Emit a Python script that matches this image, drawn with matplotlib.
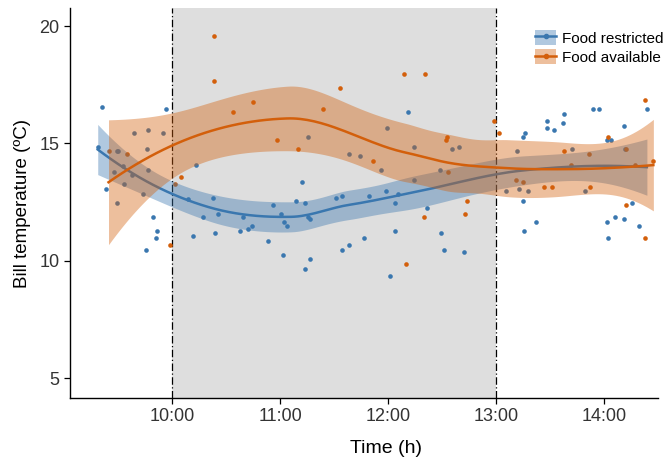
import numpy as np
import matplotlib
matplotlib.use("Agg")
import matplotlib.pyplot as plt
from matplotlib.patches import Patch
from matplotlib.lines import Line2D

plt.rcParams['font.family'] = ['Liberation Sans', 'DejaVu Sans']

# ---- data (time in decimal hours, bill temperature in °C) ----
restricted_x = [9.31, 9.353, 9.384, 9.464, 9.487, 9.50, 9.487, 9.54, 9.55, 9.632,
                9.65, 9.73, 9.756, 9.765, 9.775, 9.775, 9.82, 9.85, 9.858, 9.914,
                9.94, 10.15, 10.195, 10.217, 10.288, 10.38, 10.40, 10.424, 10.63, 10.66,
                10.70, 10.736, 10.885, 10.93, 11.007, 11.024, 11.04, 11.064, 11.148, 11.2,
                11.228, 11.228, 11.256, 11.262, 11.28, 11.28, 11.516, 11.571, 11.578, 11.636,
                11.64, 11.745, 11.78, 11.828, 11.937, 11.98, 11.99, 12.017, 12.063, 12.063,
                12.095, 12.19, 12.237, 12.24, 12.363, 12.48, 12.49, 12.52, 12.59, 12.66,
                12.707, 13.094, 13.2, 13.218, 13.248, 13.25, 13.26, 13.27, 13.30, 13.37,
                13.478, 13.478, 13.536, 13.62, 13.63, 13.71, 13.826, 13.90, 13.956, 14.03,
                14.03, 14.04, 14.07, 14.10, 14.19, 14.19, 14.20, 14.263, 14.325, 14.40]
restricted_y = [14.86, 16.55, 13.06, 13.76, 14.66, 14.66, 12.45, 14.05, 13.26, 13.66,
                15.46, 12.86, 10.45, 14.76, 15.56, 13.86, 11.87, 10.95, 11.27, 15.46,
                16.45, 12.65, 11.05, 14.06, 11.87, 12.66, 11.17, 11.97, 11.27, 11.87,
                11.37, 11.47, 10.85, 12.36, 11.97, 10.26, 11.67, 11.47, 12.56, 13.36,
                12.46, 9.66, 11.87, 15.26, 11.77, 10.06, 12.66, 10.46, 12.76, 14.56,
                10.65, 14.46, 10.95, 12.76, 13.86, 12.96, 15.65, 9.36, 12.46, 11.27,
                12.86, 16.35, 13.46, 14.86, 12.26, 13.86, 11.17, 10.46, 14.76, 14.86,
                10.37, 12.96, 14.66, 13.06, 12.56, 15.26, 11.27, 15.46, 12.96, 11.67,
                15.95, 15.66, 15.56, 15.85, 16.25, 14.76, 12.96, 16.45, 16.45, 15.16,
                11.67, 10.95, 15.16, 11.87, 15.76, 11.77, 14.76, 12.46, 11.47, 16.45]

available_x = [9.41, 9.58, 9.98, 10.03, 10.08, 10.387, 10.387, 10.56, 10.752, 10.974,
               11.17, 11.395, 11.556, 11.86, 12.15, 12.165, 12.33, 12.34, 12.54, 12.55,
               12.555, 12.71, 12.735, 12.98, 13.03, 13.19, 13.25, 13.45, 13.52, 13.635,
               13.694, 13.86, 13.87, 14.04, 14.21, 14.21, 14.29, 14.38, 14.38, 14.46]
available_y = [14.66, 14.56, 10.65, 13.26, 13.56, 19.56, 17.65, 16.35, 16.75, 15.16,
               14.76, 16.45, 17.35, 14.26, 17.95, 9.86, 11.87, 17.95, 15.16, 15.26,
               13.76, 11.97, 12.56, 15.95, 15.46, 13.46, 13.36, 13.16, 13.16, 14.66,
               14.06, 14.56, 13.16, 15.26, 14.76, 12.36, 14.06, 16.85, 10.95, 14.26]

labels = ["Food restricted", "Food available"]
tick_hours = [10, 11, 12, 13, 14]
tick_labels = ["10:00", "11:00", "12:00", "13:00", "14:00"]
y_ticks = [5, 10, 15, 20]
window = (10, 13)

BLUE = "#3A77AF"
ORANGE = "#D35F0B"


def loess_fit(x, y, xs, span=0.75, cell=0.2):
    """Local quadratic regression (R loess style, kd-tree vertices + cubic Hermite)."""
    x = np.asarray(x, float)
    y = np.asarray(y, float)
    n = len(x)
    q = int(np.floor(n * span))
    fc = int(np.floor(n * span * cell))

    def rows_at(x0):
        d = np.abs(x - x0)
        h = np.sort(d)[q - 1]
        u = np.clip(d / h, 0, 1)
        w = (1 - u ** 3) ** 3
        X = np.column_stack([np.ones(n), x - x0, (x - x0) ** 2])
        XtW = X.T * w
        S = np.linalg.solve(XtW @ X, XtW)
        return S[0], S[1]

    xsort = np.sort(x)
    mu = 0.005 * (xsort[-1] - xsort[0])
    verts = [xsort[0] - mu, xsort[-1] + mu]

    def split(l, u):  # 1-based inclusive indices
        if u - l + 1 <= fc:
            return
        m = (l + u) // 2
        verts.append((xsort[m - 1] + xsort[m]) / 2)
        split(l, m)
        split(m + 1, u)

    split(1, n)
    verts = np.unique(verts)
    VL, VD = zip(*[rows_at(v) for v in verts])
    VL, VD = np.array(VL), np.array(VD)

    def op(pts):
        out = []
        for p in pts:
            i = int(np.clip(np.searchsorted(verts, p) - 1, 0, len(verts) - 2))
            h = verts[i + 1] - verts[i]
            t = (p - verts[i]) / h
            h00 = 2 * t ** 3 - 3 * t ** 2 + 1
            h10 = t ** 3 - 2 * t ** 2 + t
            h01 = -2 * t ** 3 + 3 * t ** 2
            h11 = t ** 3 - t ** 2
            out.append(h00 * VL[i] + h10 * h * VD[i] + h01 * VL[i + 1] + h11 * h * VD[i + 1])
        return np.array(out)

    L = op(x)
    resid = y - L @ y
    M = (np.eye(n) - L).T @ (np.eye(n) - L)
    d1 = np.trace(M)
    d2 = np.trace(M @ M)
    sigma = np.sqrt(np.sum(resid ** 2) / d1)
    df = d1 ** 2 / d2
    z = 1.959964
    t = z + (z ** 3 + z) / (4 * df) + (5 * z ** 5 + 16 * z ** 3 + 3 * z) / (96 * df ** 2)
    Ls = op(xs)
    fit = Ls @ y
    se = sigma * np.sqrt(np.sum(Ls ** 2, axis=1))
    return fit, fit - t * se, fit + t * se


fig = plt.figure(figsize=(6.67, 4.57), dpi=100)
ax = fig.add_axes([70 / 667, 1 - 398 / 457, 588 / 667, 390 / 457])

ax.axvspan(window[0], window[1], color="#dedede", lw=0, zorder=0)
for xv in window:
    ax.axvline(xv, color="black", lw=0.9, ls=(0, (6, 2, 1, 2)), zorder=1)

groups = [(restricted_x, restricted_y, BLUE), (available_x, available_y, ORANGE)]
for gx, gy, c in groups:
    ax.scatter(gx, gy, s=11, color=c, lw=0, zorder=2)

z = 3
handles = []
for (gx, gy, c), lab in zip(groups, labels):
    xs = np.linspace(min(gx), max(gx), 160)
    fit, lo, hi = loess_fit(gx, gy, xs)
    ax.fill_between(xs, lo, hi, color=c, alpha=0.4, lw=0, zorder=z)
    ax.plot(xs, fit, color=c, lw=1.8, zorder=z + 0.5)
    z += 1
    handles.append((Patch(facecolor=c, alpha=0.4, lw=0),
                    Line2D([], [], color=c, lw=1.8, marker='o', markersize=3)))

ax.set_xlim(9.053, 14.503)
ax.set_ylim(4.15, 20.77)
ax.set_xticks(tick_hours)
ax.set_xticklabels(tick_labels)
ax.set_yticks(y_ticks)

for s in ["top", "right"]:
    ax.spines[s].set_visible(False)
for s in ["left", "bottom"]:
    ax.spines[s].set_linewidth(1.0)
ax.tick_params(axis="both", direction="out", length=4, width=0.9,
               labelsize=13, colors="black", labelcolor="#333333")

ax.set_xlabel("Time (h)", fontsize=14, labelpad=8)
ax.xaxis.set_label_coords((386.5 - 70) / 588, -0.108)
ax.set_ylabel("Bill temperature (ºC)", fontsize=13.5, labelpad=6)

fig.legend(handles, labels, loc="upper left",
           bbox_to_anchor=(535 / 667, 1 - 30 / 457), bbox_transform=fig.transFigure,
           frameon=False, fontsize=11, borderpad=0, borderaxespad=0,
           handlelength=1.4, handleheight=1.1, handletextpad=0.4, labelspacing=0.25)

fig.savefig("out.png", dpi=100)
